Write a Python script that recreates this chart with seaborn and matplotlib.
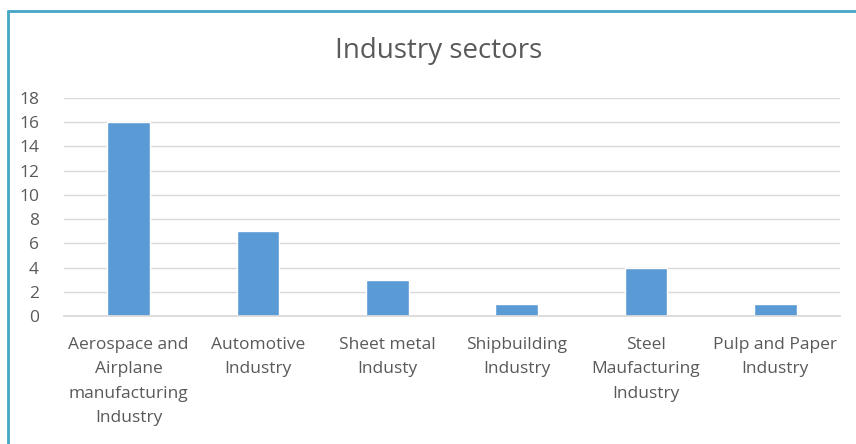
import matplotlib
matplotlib.use("Agg")
import matplotlib.pyplot as plt
import seaborn as sns
import pandas as pd
from matplotlib.lines import Line2D

categories = ["Aerospace and\nAirplane\nmanufacturing\nIndustry", "Automotive\nIndustry",
              "Sheet metal\nIndusty", "Shipbuilding\nIndustry",
              "Steel\nMaufacturing\nIndustry", "Pulp and Paper\nIndustry"]
values = [16, 7, 3, 1, 4, 1]
yticks = [0, 2, 4, 6, 8, 10, 12, 14, 16, 18]

sns.set_theme(style="white")
plt.rcParams['font.family'] = ['Open Sans', 'DejaVu Sans']

df = pd.DataFrame({"cat": categories, "val": values})
fig = plt.figure(figsize=(8.56, 4.44), dpi=100)
ax = fig.add_axes([64/856, 1-316/444, (840-64)/856, (316-98)/444])
sns.barplot(data=df, x="cat", y="val", color="#5B9BD5", width=0.33, saturation=1, ax=ax)
ax.set_ylim(0, 18)
ax.set_yticks(yticks)
ax.set_xlim(-0.5, len(categories)-0.5)
ax.yaxis.grid(True, color="#D9D9D9", linewidth=1)
ax.set_axisbelow(True)
for s in ["top", "right", "left"]:
    ax.spines[s].set_visible(False)
ax.spines["bottom"].set_color("#D9D9D9")
ax.set_xlabel("")
ax.set_ylabel("")
ax.tick_params(axis="y", length=0, pad=18, labelsize=12.5, labelcolor="#595959")
ax.tick_params(axis="x", length=0, pad=15, labelsize=12.5, labelcolor="#595959")
for lbl in ax.get_xticklabels():
    lbl.set_linespacing(1.7)
    lbl.set_verticalalignment("top")
fig.text(439/856, 1-51/444, "Industry sectors", ha="center", va="center",
         fontsize=20, color="#595959")
fig.add_artist(Line2D([8/856, 1], [1-11/444, 1-11/444], color="#45A6C5", linewidth=2))
fig.add_artist(Line2D([8/856, 8/856], [0, 1-11/444], color="#45A6C5", linewidth=2))
fig.savefig("out.png", dpi=100)
